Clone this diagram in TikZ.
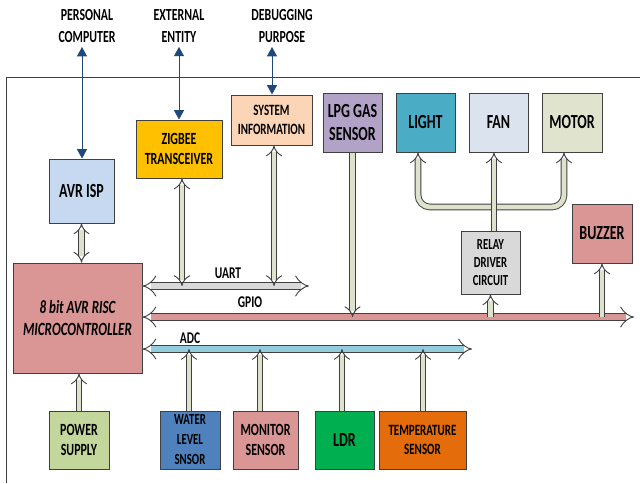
\documentclass[tikz,border=0pt]{standalone}
\usepackage{fontspec}
\setmainfont{Carlito}[FakeStretch=0.7]
\usetikzlibrary{arrows.meta,calc}
\newdimen\px \px=0.75pt
\definecolor{boxline}{RGB}{64,64,64}
\definecolor{connfill}{RGB}{221,226,204}
\definecolor{linkblue}{RGB}{31,73,125}
\definecolor{avrblue}{RGB}{198,217,241}
\definecolor{zigyellow}{RGB}{255,192,0}
\definecolor{syspeach}{RGB}{251,213,181}
\definecolor{lpgpurple}{RGB}{179,162,199}
\definecolor{lightcyan}{RGB}{75,172,198}
\definecolor{fanblue}{RGB}{219,227,239}
\definecolor{motorolive}{RGB}{224,227,206}
\definecolor{rosered}{RGB}{217,150,148}
\definecolor{relaygray}{RGB}{217,217,217}
\definecolor{powergreen}{RGB}{195,214,155}
\definecolor{waterblue}{RGB}{79,129,189}
\definecolor{ldrgreen}{RGB}{0,176,80}
\definecolor{temporange}{RGB}{228,108,10}
\definecolor{adcblue}{RGB}{147,205,221}
\definecolor{uartgray}{RGB}{217,217,217}
\tikzset{
  block/.style={draw=boxline,line width=0.75pt,align=center,inner sep=1pt},
  bigtxt/.style={font=\fontsize{15}{17}\selectfont\bfseries},
  midtxt/.style={font=\fontsize{12.8}{15}\selectfont\bfseries},
  smalltxt/.style={font=\fontsize{11.8}{14.5}\selectfont\bfseries},
  toptxt/.style={font=\fontsize{12.7}{16}\selectfont\bfseries,align=center},
  buslabel/.style={font=\fontsize{12.3}{14}\selectfont\bfseries},
  conn/.style={draw=boxline,line width=0.7pt,double=connfill,double distance=3.6pt},
  bus/.style={draw=boxline,line width=0.7pt,double distance=5pt,{Implies}-{Implies}},
  extlink/.style={draw=linkblue,line width=0.6pt,
    {Triangle[width=7.5pt,length=7pt]}-{Triangle[width=7.5pt,length=7pt]}}
}
\begin{document}
\begin{tikzpicture}[x=0.75pt,y=-0.75pt]
  \useasboundingbox (0,0) rectangle (640,483);
  \draw[boxline,line width=0.75pt] (640,77) -- (6,77) -- (6,483);
  % outside world
  \node[toptxt] (pc) at (87,26) {PERSONAL\\COMPUTER};
  \node[toptxt] (ext) at (179,26) {EXTERNAL\\ENTITY};
  \node[toptxt] (debug) at (282,26) {DEBUGGING\\PURPOSE};
  % blocks
  \node[block,bigtxt,fill=avrblue,minimum width=65\px,minimum height=64\px] (avrisp) at (81.5,191) {AVR ISP};
  \node[block,midtxt,fill=zigyellow,minimum width=86\px,minimum height=58\px] (zigbee) at (179,149) {ZIGBEE\\TRANSCEIVER};
  \node[block,smalltxt,fill=syspeach,minimum width=81\px,minimum height=50\px] (sysinfo) at (271.5,120) {SYSTEM\\INFORMATION};
  \node[block,bigtxt,fill=lpgpurple,minimum width=59\px,minimum height=59\px] (lpg) at (352.5,122.5) {LPG GAS\\SENSOR};
  \node[block,bigtxt,fill=lightcyan,minimum width=59\px,minimum height=59\px] (light) at (425.5,122.5) {LIGHT};
  \node[block,bigtxt,fill=fanblue,minimum width=59\px,minimum height=59\px] (fan) at (498.5,122.5) {FAN};
  \node[block,bigtxt,fill=motorolive,minimum width=60\px,minimum height=59\px] (motor) at (572,122.5) {MOTOR};
  \node[block,bigtxt,fill=rosered,minimum width=60\px,minimum height=59\px] (buzzer) at (602,233.5) {BUZZER};
  \node[block,fill=relaygray,minimum width=59\px,minimum height=63\px,font=\fontsize{11.5}{13.5}\selectfont\bfseries] (relay) at (490.5,262.5) {RELAY\\DRIVER\\CIRCUIT};
  \node[block,font=\fontsize{14}{16}\selectfont\bfseries\itshape,fill=rosered,minimum width=129\px,minimum height=110\px] (mcu) at (77.5,318) {8 bit AVR RISC\\MICROCONTROLLER};
  \node[block,midtxt,fill=powergreen,minimum width=60\px,minimum height=58\px] (power) at (79,440) {POWER\\SUPPLY};
  \node[block,fill=waterblue,minimum width=60\px,minimum height=58\px,font=\fontsize{11.6}{15}\selectfont\bfseries] (water) at (190,440) {WATER\\LEVEL\\SNSOR};
  \node[block,midtxt,fill=rosered,minimum width=65\px,minimum height=58\px] (monitor) at (265.5,440) {MONITOR\\SENSOR};
  \node[block,bigtxt,fill=ldrgreen,minimum width=59\px,minimum height=58\px] (ldr) at (344.5,440) {LDR};
  \node[block,smalltxt,fill=temporange,minimum width=87\px,minimum height=58\px] (temp) at (422.5,440) {TEMPERATURE\\SENSOR};
  % bus ends
  \coordinate (uartend) at (309,286);
  \coordinate (gpioend) at (634,317);
  \coordinate (adcend) at (472,349);
  \coordinate (treebar) at (494,207);
  \draw[bus,double=uartgray] (mcu.east |- uartend) -- (uartend);
  \draw[bus,double=rosered] (mcu.east |- gpioend) -- (gpioend);
  \draw[bus,double=adcblue] (mcu.east |- adcend) -- (adcend);
  \node[buslabel] (uartlabel) at (228,273) {UART};
  \node[buslabel] (gpiolabel) at (250,302) {GPIO};
  \node[buslabel] (adclabel) at (190,338) {ADC};
  % external links
  \draw[extlink] ($(pc.south)+(-5,0)$) -- ($(avrisp.north)+(0.5,0)$);
  \draw[extlink] (ext.south) -- (zigbee.north);
  \draw[extlink] ($(debug.south)+(-10,0)$) -- ($(sysinfo.north)+(0.5,0)$);
  % internal links
  \draw[conn,{Implies}-{Implies}] (avrisp.south) -- (avrisp.south |- mcu.north);
  \draw[conn,{Implies}-{Implies}] ($(zigbee.south)+(3,0)$) -- ($(zigbee.south |- uartend)+(3,0)$);
  \draw[conn,{Implies}-{Implies}] ($(sysinfo.south)+(2.5,0)$) -- ($(sysinfo.south |- uartend)+(2.5,0)$);
  \draw[conn,-{Implies}] (lpg.south) -- (lpg.south |- gpioend);
  \draw[conn,-{Implies}] (relay.south |- gpioend) -- (relay.south);
  \draw[conn,-{Implies}] (buzzer.south |- gpioend) -- (buzzer.south);
  \draw[conn,-{Implies}] (power.north) -- (power.north |- mcu.south);
  \foreach \sensor/\dx in {water/-1,monitor/-5.5,ldr/-2.5,temp/0.5}
    \draw[conn,-{Implies}] ($(\sensor.north)+(\dx,0)$) -- ($(\sensor.north |- adcend)+(\dx,0)$);
  % relay outputs
  \draw[conn,rounded corners=9pt,{Implies}-{Implies}] ($(light.south)+(-7.5,0)$) |- (treebar) -| ($(motor.south)+(-8,0)$);
  \draw[conn,-{Implies}] ($(relay.north)+(3.5,0)$) -- ($(relay.north |- fan.south)+(3.5,0)$);
\end{tikzpicture}
\end{document}
